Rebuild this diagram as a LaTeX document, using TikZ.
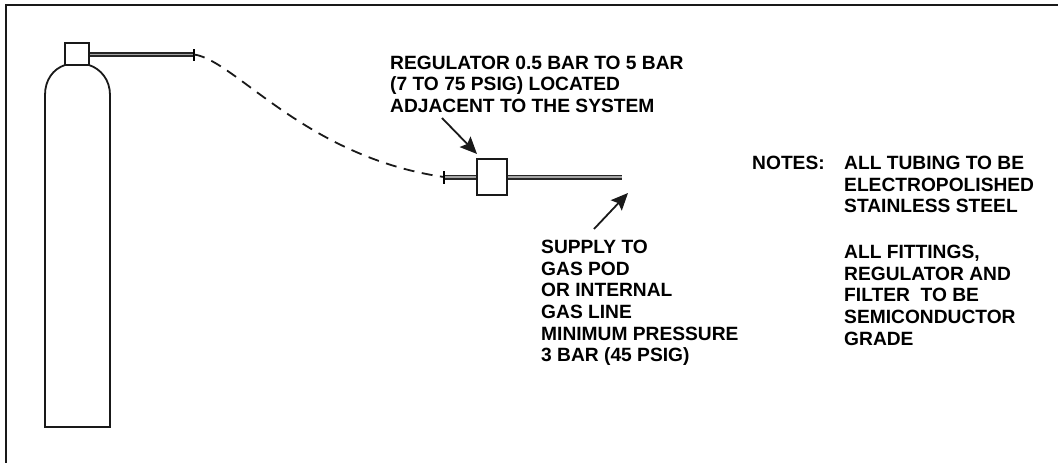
\documentclass[tikz,border=0pt]{standalone}
\usepackage{fontspec}
\setmainfont{Liberation Sans}
\usetikzlibrary{arrows.meta}
\tikzset{
  x=1pt,y=-1pt,
  outline/.style={draw=black!90,line width=1.8pt},
  boxpart/.style={outline,fill=white,inner sep=0pt,minimum width=#1},
  tube/.style={draw=black!85,line width=1.7pt,double=black!35,double distance=1.6pt},
  hose/.style={draw=black!90,line width=1.8pt,dash pattern=on 11pt off 7.5pt},
  tick/.style={draw=black,line width=1.7pt},
  pointer/.style={draw=black!90,line width=1.8pt,-{Stealth[length=17pt,width=15pt,inset=3pt]}},
  label/.style={font=\bfseries\fontsize{19.2}{21.6}\selectfont,align=left,anchor=north west,inner sep=0pt,text=black}
}
\begin{document}
\begin{tikzpicture}
\useasboundingbox (0,0) rectangle (1058,463);
\draw[outline] (6,463) -- (6,5) -- (1058,5);
% cylinder
\draw[outline] (45,427) -- (45,95) .. controls (45,80) and (53,69) .. (65,65) -- (89,65) .. controls (101,69) and (110,80) .. (110,95) -- (110,427) -- cycle;
\node[boxpart=24pt,minimum height=22pt] (valve) at (77,54) {};
\coordinate (outlet) at (194,54.5);
\coordinate (hoseend) at (444,177);
\draw[tube] (valve.east |- outlet) -- (outlet);
\draw[tick] (194,49) -- (194,61);
\draw[hose] (outlet) .. controls (235,60) and (305,157) .. (hoseend);
\node[boxpart=30pt,minimum height=36pt] (reg) at (492,177) {};
\coordinate (supply) at (622,177);
\draw[tube] (hoseend) -- (reg.west);
\draw[tick] (444,171) -- (444,184);
\draw[tube] (reg.east) -- (supply);
\node[label] (reglabel) at (390,55.5) {REGULATOR 0.5 BAR TO 5 BAR\\(7 TO 75 PSIG) LOCATED\\ADJACENT TO THE SYSTEM};
\node[label] (supplylabel) at (541,240) {SUPPLY TO\\GAS POD\\OR INTERNAL\\GAS LINE\\MINIMUM PRESSURE\\3 BAR (45 PSIG)};
\node[label] (noteshead) at (752,156) {NOTES:};
\node[label] (note1) at (844,156) {ALL TUBING TO BE\\ELECTROPOLISHED\\STAINLESS STEEL};
\node[label] (note2) at (844,245) {ALL FITTINGS,\\REGULATOR AND\\FILTER\ \ TO BE\\SEMICONDUCTOR\\GRADE};
\coordinate (a1s) at (442,118); \coordinate (a1e) at (477,154);
\coordinate (a2s) at (594,229); \coordinate (a2e) at (628,193);
\draw[pointer] (a1s) -- (a1e);
\draw[pointer] (a2s) -- (a2e);
\end{tikzpicture}
\end{document}
